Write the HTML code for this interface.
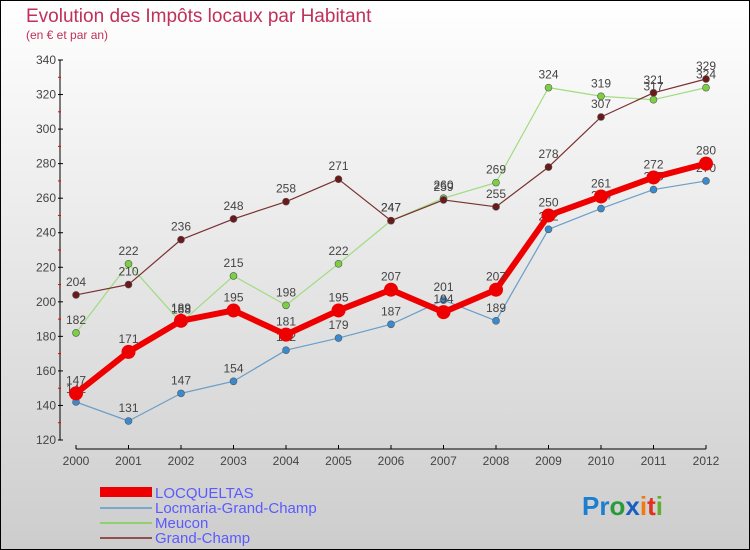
<!DOCTYPE html>
<html><head><meta charset="utf-8"><style>
body{margin:0;width:750px;height:550px;overflow:hidden;font-family:"Liberation Sans",sans-serif}
svg{display:block}
</style></head><body>
<svg id="chart" width="750" height="550" xmlns="http://www.w3.org/2000/svg">
<defs><linearGradient id="bg" x1="0" y1="0" x2="0" y2="1"><stop offset="0" stop-color="#ffffff"/><stop offset="1" stop-color="#cdcdcd"/></linearGradient></defs>
<rect x="0.5" y="0.5" width="749" height="549" fill="url(#bg)" stroke="#000"/>
<text x="26" y="22" font-size="19" fill="#c0305a">Evolution des Impôts locaux par Habitant</text>
<text x="26" y="39" font-size="12" fill="#c0305a">(en € et par an)</text>
<g id="axes"></g>
<g id="series"></g>
<g>
<rect x="100" y="487" width="52" height="10" fill="#e00"/>
<line x1="100" y1="508" x2="152" y2="508" stroke="#7aa7cc" stroke-width="2"/>
<line x1="100" y1="523" x2="152" y2="523" stroke="#90d070" stroke-width="2"/>
<line x1="100" y1="538" x2="152" y2="538" stroke="#905050" stroke-width="2"/>
<text x="155" y="498" font-size="15" fill="#5a5aff">LOCQUELTAS</text>
<text x="155" y="513" font-size="15" fill="#5a5aff">Locmaria-Grand-Champ</text>
<text x="155" y="528" font-size="15" fill="#5a5aff">Meucon</text>
<text x="155" y="543" font-size="15" fill="#5a5aff">Grand-Champ</text>
</g>
<text x="582" y="515" font-size="26" font-weight="bold"><tspan fill="#1a7fd0">Pr</tspan><tspan fill="#2a9a3a">o</tspan><tspan fill="#1a5fc0">x</tspan><tspan fill="#f07a10">i</tspan><tspan fill="#e03020">t</tspan><tspan fill="#60b030">i</tspan></text>
</svg>
<script>
const years=["2000","2001","2002","2003","2004","2005","2006","2007","2008","2009","2010","2011","2012"];
const yTicks=[120,140,160,180,200,220,240,260,280,300,320,340];
const locqueltas=[147,171,189,195,181,195,207,194,207,250,261,272,280];
const locmaria=[142,131,147,154,172,179,187,201,189,242,254,265,270];
const meucon=[182,222,188,215,198,222,247,260,269,324,319,317,324];
const grandChamp=[204,210,236,248,258,271,247,259,255,278,307,321,329];
const NS="http://www.w3.org/2000/svg";
const X=i=>76+i*52.5;
const Y=v=>440-(v-120)*380/220;
function mk(t,a,p){const e=document.createElementNS(NS,t);for(const k in a)e.setAttribute(k,a[k]);p.appendChild(e);return e;}
const ax=document.getElementById('axes');
mk('line',{x1:60,y1:60,x2:60,y2:440,stroke:'#000'},ax);
mk('line',{x1:76,y1:449,x2:706,y2:449,stroke:'#000'},ax);
yTicks.forEach(v=>{
 mk('line',{x1:58,y1:Y(v),x2:63,y2:Y(v),stroke:'#000'},ax);
 const t=mk('text',{x:56,y:Y(v)+4,'font-size':12,fill:'#444','text-anchor':'end'},ax);t.textContent=v;
 
 
 if(v<340) mk('line',{x1:58,y1:Y(v+10),x2:61,y2:Y(v+10),stroke:'#e00'},ax);
});
years.forEach((y,i)=>{
 mk('line',{x1:X(i),y1:445,x2:X(i),y2:449,stroke:'#000'},ax);
 const t=mk('text',{x:X(i),y:465,'font-size':12,fill:'#444','text-anchor':'middle'},ax);t.textContent=y;
 
 
});
const sg=document.getElementById('series');
function series(d,col,w,r,dot,name){
 const g=mk('g',{},sg);
 
 
 mk('polyline',{points:d.map((v,i)=>X(i)+','+Y(v)).join(' '),fill:'none',stroke:col,'stroke-width':w,'stroke-linejoin':'round'},g);
 d.forEach((v,i)=>{
  const c=mk('circle',{cx:X(i),cy:Y(v),r:r,fill:dot,stroke:'#555','stroke-width':r>5?0:0.6},g);
  
  
  const t=mk('text',{x:X(i),y:Y(v)-9,'font-size':12,fill:'#444','text-anchor':'middle'},g);t.textContent=v;
  
  
 });
}
series(locmaria,'#6a9ec8',1.2,3.5,'#3a8ad0','locmaria-series');
series(meucon,'#a0dc80',1.2,3.5,'#7ad040','meucon-series');
series(grandChamp,'#7a3030',1.2,3.5,'#6a1a1a','grand-champ-series');
series(locqueltas,'#ee0000',6,7,'#ee0000','locqueltas-series');
</script>
</body></html>
